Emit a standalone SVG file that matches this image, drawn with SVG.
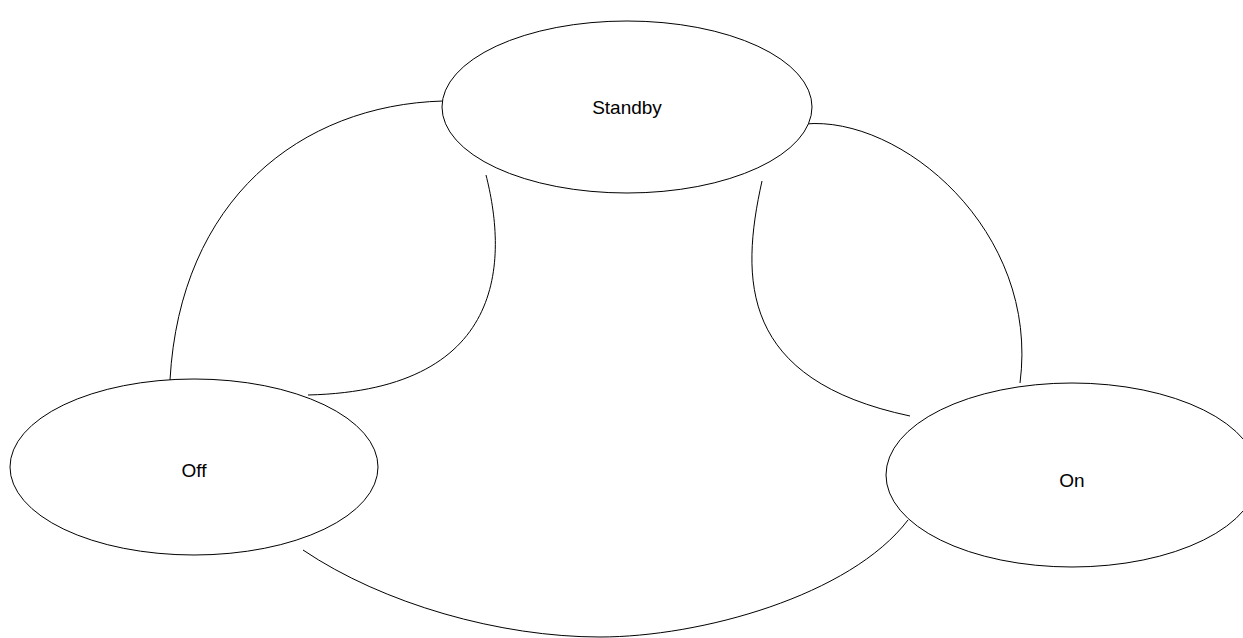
<svg xmlns="http://www.w3.org/2000/svg" width="1243" height="638" viewBox="0 0 1243 638">
<style>
.n{fill:#fff;stroke:#000;stroke-width:1}
.t{font-family:"Liberation Sans",Arial,sans-serif;font-size:19px;fill:#000;text-anchor:middle;dominant-baseline:central}
.c{fill:none;stroke:#000;stroke-width:1}
</style>
<rect width="1243" height="638" fill="#fff"/>
<g id="connectors">
<path class="c" d="M443,101 C300,105 180,200 170,380"/>
<path class="c" d="M486,175 C505,250 515,390 308,395"/>
<path class="c" d="M805,124 C900,115 1040,230 1020,383"/>
<path class="c" d="M762,181 C740,280 740,380 910,416"/>
<path class="c" d="M303,550 C383,604 500,637 600,637 C700,637 850,596 908,520"/>
</g>
<g id="standby"><ellipse class="n" cx="627" cy="107" rx="185" ry="86"/><text class="t" x="627" y="107">Standby</text></g>
<g id="off"><ellipse class="n" cx="194" cy="467" rx="184" ry="88"/><text class="t" x="194" y="470">Off</text></g>
<g id="on"><ellipse class="n" cx="1072" cy="475" rx="186" ry="92"/><text class="t" x="1072" y="480">On</text></g>
</svg>
